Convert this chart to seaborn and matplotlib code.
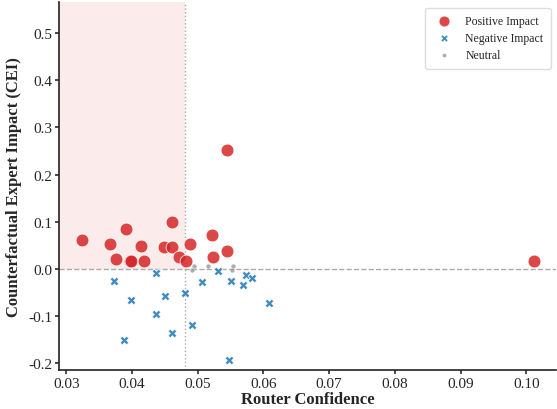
import matplotlib

matplotlib.use("Agg")
import matplotlib.pyplot as plt
import numpy as np
import pandas as pd
import seaborn as sns

# Router confidence / CEI values
pos_conf = [0.0324, 0.0367, 0.0375, 0.0391, 0.0397, 0.0399, 0.0413, 0.0418,
            0.0448, 0.0461, 0.0461, 0.0472, 0.0482, 0.0488, 0.0522, 0.0524,
            0.0544, 0.0544, 0.1012]
pos_cei = [0.062, 0.053, 0.021, 0.085, 0.016, 0.017, 0.048, 0.017,
           0.046, 0.046, 0.099, 0.026, 0.018, 0.053, 0.072, 0.026,
           0.039, 0.253, 0.016]

neg_conf = [0.0373, 0.0437, 0.0398, 0.0450, 0.0436, 0.0480, 0.0388, 0.0461,
            0.0492, 0.0507, 0.0531, 0.0551, 0.0573, 0.0583, 0.0569, 0.0608,
            0.0547]
neg_cei = [-0.026, -0.009, -0.066, -0.057, -0.095, -0.051, -0.150, -0.136,
           -0.119, -0.028, -0.005, -0.025, -0.012, -0.018, -0.033, -0.072,
           -0.192]

neu_conf = [0.0491, 0.0495, 0.0516, 0.0552, 0.0553]
neu_cei = [-0.002, 0.006, 0.006, -0.001, 0.007]

conf_threshold = 0.048

sns.set_theme(style="white")
plt.rcParams["font.family"] = ["Liberation Serif", "DejaVu Serif"]

df = pd.concat(
    [
        pd.DataFrame({"conf": pos_conf, "cei": pos_cei, "impact": "Positive Impact"}),
        pd.DataFrame({"conf": neg_conf, "cei": neg_cei, "impact": "Negative Impact"}),
        pd.DataFrame({"conf": neu_conf, "cei": neu_cei, "impact": "Neutral"}),
    ],
    ignore_index=True,
)

fig, ax = plt.subplots(figsize=(5.57, 4.10), dpi=100)
fig.subplots_adjust(left=0.106, right=0.999, top=0.993, bottom=0.095)

styles = {
    "Positive Impact": dict(marker="o", s=85, color="#d62728", alpha=0.85,
                            edgecolor="white", linewidth=0.6),
    "Negative Impact": dict(marker="X", s=40, color="#1f77b4", alpha=0.85,
                            edgecolor="white", linewidth=0.6),
    "Neutral": dict(marker="o", s=12, color="#999999", alpha=0.8,
                    edgecolor="white", linewidth=0.3),
}
for name, kw in styles.items():
    sub = df[df["impact"] == name]
    sns.scatterplot(data=sub, x="conf", y="cei", label=name, ax=ax, **kw)

xlim = (0.0289, 0.1046)
ylim = (-0.214, 0.566)
ax.set_xlim(xlim)
ax.set_ylim(ylim)

ax.fill_between([xlim[0], conf_threshold], 0, ylim[1], color="#d62728",
                alpha=0.09, linewidth=0, zorder=0)
ax.axvline(conf_threshold, color="#aaaaaa", linestyle=":", linewidth=1, zorder=0)
ax.axhline(0, color="#aaaaaa", linestyle="--", linewidth=1, zorder=0)

xticks = np.arange(0.03, 0.101, 0.01)
yticks = np.arange(-0.2, 0.51, 0.1)
ax.set_xticks(xticks)
ax.set_yticks(yticks)
ax.set_xticklabels([f"{t:.2f}" for t in xticks])
ax.set_yticklabels([f"{t:.1f}" for t in yticks])
ax.tick_params(axis="both", labelsize=11, length=3, pad=2, direction="out",
               left=True, bottom=True, color="#333333")

ax.set_xlabel("Router Confidence", fontsize=12, fontweight="bold", labelpad=1)
ax.set_ylabel("Counterfactual Expert Impact (CEI)", fontsize=12,
              fontweight="bold", labelpad=4)

sns.despine(ax=ax)
for side in ("left", "bottom"):
    ax.spines[side].set_color("#222222")
    ax.spines[side].set_linewidth(1.2)

ax.legend(loc="upper right", fontsize=8.5, frameon=True, framealpha=1,
          edgecolor="#dddddd", borderpad=0.6, handletextpad=0.8,
          labelspacing=0.45, markerscale=0.85)

fig.savefig("out.png", dpi=100)
